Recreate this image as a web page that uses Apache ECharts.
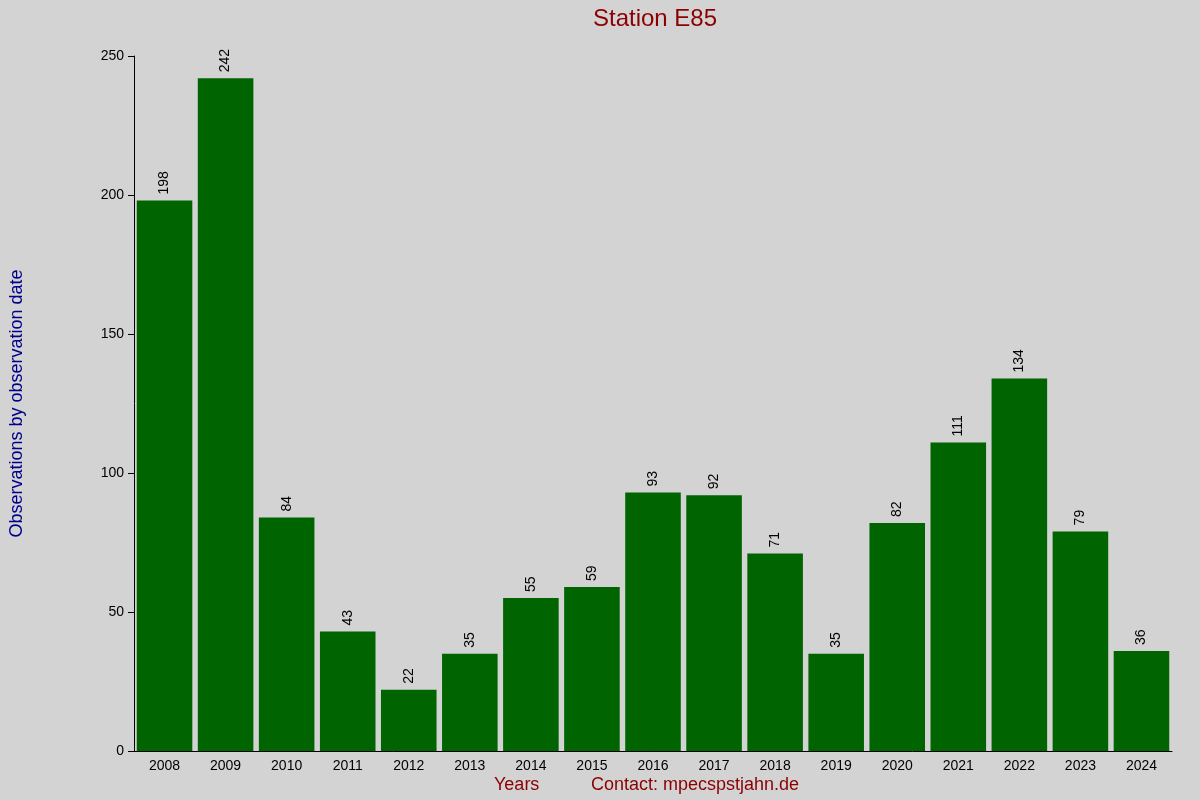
<!DOCTYPE html>
<html><head><meta charset="utf-8">
<script src="https://cdn.jsdelivr.net/npm/echarts@6/dist/echarts.min.js"></script>
<style>html,body{margin:0;background:#d3d3d3}#c{width:1200px;height:800px}</style>
</head><body><div id="c"></div>
<script>
const years = ['2008','2009','2010','2011','2012','2013','2014','2015','2016','2017','2018','2019','2020','2021','2022','2023','2024'];
const counts = [198,242,84,43,22,35,55,59,93,92,71,35,82,111,134,79,36];
const yTicks = [0,50,100,150,200,250];
const chart = echarts.init(document.getElementById('c'));
chart.setOption({
  backgroundColor:'#d3d3d3',
  animation:false,
  title:{text:'Station E85',left:650,top:2,textAlign:'center',textStyle:{color:'#8b0000',fontSize:24,fontWeight:'normal',fontFamily:'Liberation Sans'}},
  graphic:[
    {type:'text',left:494,top:776,style:{text:'Years',fill:'#8b0000',font:'18px Liberation Sans'}},
    {type:'text',left:591,top:776,style:{text:'Contact: mpecspstjahn.de',fill:'#8b0000',font:'18px Liberation Sans'}}
  ],
  grid:{left:126,right:28,top:56,bottom:49},
  xAxis:{type:'category',data:years,axisLine:{lineStyle:{color:'#000'}},axisTick:{show:false},
    axisLabel:{color:'#000',fontSize:14,fontFamily:'Liberation Sans',margin:8}},
  yAxis:{type:'value',min:0,max:250,interval:50,name:'Observations by observation date',nameLocation:'middle',nameGap:108,
    nameTextStyle:{color:'#00008b',fontSize:18,fontFamily:'Liberation Sans'},
    axisLine:{show:true,lineStyle:{color:'#000'}},axisTick:{show:true,length:6,lineStyle:{color:'#000'}},
    splitLine:{show:false},axisLabel:{color:'#000',fontSize:14,fontFamily:'Liberation Sans',margin:10,
      formatter:v=>yTicks.includes(v)?String(v):''}},
  series:[{type:'bar',data:counts,barCategoryGap:'9%',itemStyle:{color:'#006400'},
    label:{show:true,position:'top',rotate:90,align:'left',verticalAlign:'middle',distance:6,color:'#000',fontSize:14,fontFamily:'Liberation Sans'}}]
});
</script></body></html>
